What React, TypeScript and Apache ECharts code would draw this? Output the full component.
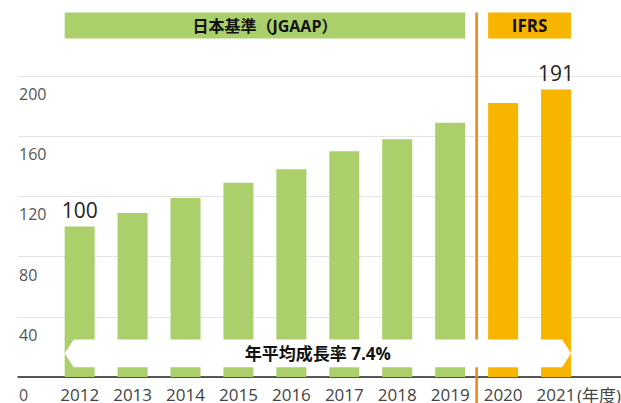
import React, { useEffect, useRef } from 'react';
import * as echarts from 'echarts';

const years = ['2012', '2013', '2014', '2015', '2016', '2017', '2018', '2019', '2020', '2021'];
const values = [100, 109, 119, 129, 138, 150, 158, 169, 182, 191];
const labeledIndices = [0, 9];
const ifrsStartIndex = 8;
const yMin = 0;
const yMax = 200;
const yInterval = 40;
const headerJGAAP = '日本基準（JGAAP）';
const headerIFRS = 'IFRS';
const growthText = '年平均成長率 7.4%';
const unitLabel = '(年度)';

const GREEN = '#aacf6b';
const ORANGE = '#f8b500';
const LINE_ORANGE = '#ef8519';
const FONT = "'Open Sans', 'Noto Sans CJK JP', sans-serif";

export default function App() {
  const ref = useRef<HTMLDivElement>(null);

  useEffect(() => {
    if (!ref.current) return;
    const chart = echarts.init(ref.current, null, { renderer: 'svg' });
    const barWidth = 30;

    const option: any = {
      animation: false,
      textStyle: { fontFamily: FONT },
      grid: [
        { left: 18, right: 0, top: 76, height: 301, containLabel: false, outerBoundsMode: 'none' },
        { left: 53.2, right: 38.5, top: 76, height: 301, containLabel: false, outerBoundsMode: 'none' },
      ],
      xAxis: [
        {
          gridIndex: 0,
          type: 'value',
          min: 0,
          max: 1,
          axisLine: { show: true, lineStyle: { color: '#222', width: 1.5 } },
          axisTick: { show: false },
          axisLabel: { show: false },
          splitLine: { show: false },
        },
        {
          gridIndex: 1,
          type: 'category',
          data: years,
          axisLine: { show: false },
          axisTick: { show: false },
          axisLabel: { margin: 9, fontSize: 17, color: '#444', fontFamily: FONT, interval: 0 },
          splitLine: { show: false },
        },
      ],
      yAxis: [
        {
          gridIndex: 0,
          type: 'value',
          min: yMin,
          max: yMax,
          interval: yInterval,
          axisLine: { show: false },
          axisTick: { show: false },
          axisLabel: {
            inside: true,
            margin: 1,
            fontSize: 16,
            color: '#555',
            fontFamily: FONT,
            align: 'left',
            verticalAlign: 'top',
            padding: [10, 0, 0, 0],
          },
          splitLine: { lineStyle: { color: '#e4e4e4', width: 1 } },
        },
        {
          gridIndex: 1,
          type: 'value',
          min: yMin,
          max: yMax,
          interval: yInterval,
          show: false,
          splitLine: { show: false },
        },
      ],
      series: [
        {
          type: 'bar',
          xAxisIndex: 1,
          yAxisIndex: 1,
          barWidth,
          label: {
            show: false,
            position: 'top',
            distance: 6,
            fontSize: 21,
            color: '#222',
            fontFamily: FONT,
          },
          data: values.map((v, i) => ({
            value: v,
            itemStyle: { color: i >= ifrsStartIndex ? ORANGE : GREEN },
            label: { show: labeledIndices.includes(i) },
          })),
        },
      ],
    };
    chart.setOption(option);

    const px = (i: number, v: number) => chart.convertToPixel({ gridIndex: 1 } as any, [i, v]) as number[];
    const half = barWidth / 2;
    const L = px(0, 0)[0] - half;
    const Rg = px(ifrsStartIndex - 1, 0)[0] + half;
    const Lo = px(ifrsStartIndex, 0)[0] - half;
    const R = px(years.length - 1, 0)[0] + half;
    const boundaryX = (px(ifrsStartIndex - 1, 0)[0] + px(ifrsStartIndex, 0)[0]) / 2;
    const baseY = px(0, 0)[1];
    const bandTop = px(0, 25)[1];
    const bandBot = px(0, 6.5)[1];
    const mid = (bandTop + bandBot) / 2;
    const head = 9;
    const hTop = 12.5;
    const hH = 26;

    chart.setOption({
      graphic: [
        {
          type: 'line', z: 90,
          shape: { x1: boundaryX, y1: hTop, x2: boundaryX, y2: 403 },
          style: { stroke: LINE_ORANGE, lineWidth: 2.5 },
        },
        { type: 'rect', z: 100, shape: { x: L, y: hTop, width: Rg - L, height: hH }, style: { fill: GREEN } },
        {
          type: 'text', z: 101, x: (L + Rg) / 2, y: hTop + hH / 2,
          style: { text: headerJGAAP, fontSize: 16, fontWeight: 'bold', fill: '#111', align: 'center', verticalAlign: 'middle', fontFamily: FONT },
        },
        { type: 'rect', z: 100, shape: { x: Lo, y: hTop, width: R - Lo, height: hH }, style: { fill: ORANGE } },
        {
          type: 'text', z: 101, x: (Lo + R) / 2, y: hTop + hH / 2,
          style: { text: headerIFRS, fontSize: 17, fontWeight: 'bold', fill: '#111', align: 'center', verticalAlign: 'middle', fontFamily: FONT },
        },
        {
          type: 'polygon', z: 100,
          shape: {
            points: [
              [L, mid], [L + head, bandTop], [R - head, bandTop],
              [R, mid], [R - head, bandBot], [L + head, bandBot],
            ],
          },
          style: { fill: '#ffffff' },
        },
        {
          type: 'text', z: 101, x: (L + R) / 2, y: mid,
          style: { text: growthText, fontSize: 17, fontWeight: 'bold', fill: '#111', align: 'center', verticalAlign: 'middle', fontFamily: FONT },
        },
        {
          type: 'text', z: 101, x: R + 6, y: baseY + 18,
          style: { text: unitLabel, fontSize: 17, fill: '#444', align: 'left', verticalAlign: 'middle', fontFamily: FONT },
        },
      ],
    });

    return () => chart.dispose();
  }, []);

  return (
    <div
      ref={ref}
      style={{ position: 'fixed', left: 0, top: 0, width: 621, height: 403, background: '#fff' }}
    />
  );
}
